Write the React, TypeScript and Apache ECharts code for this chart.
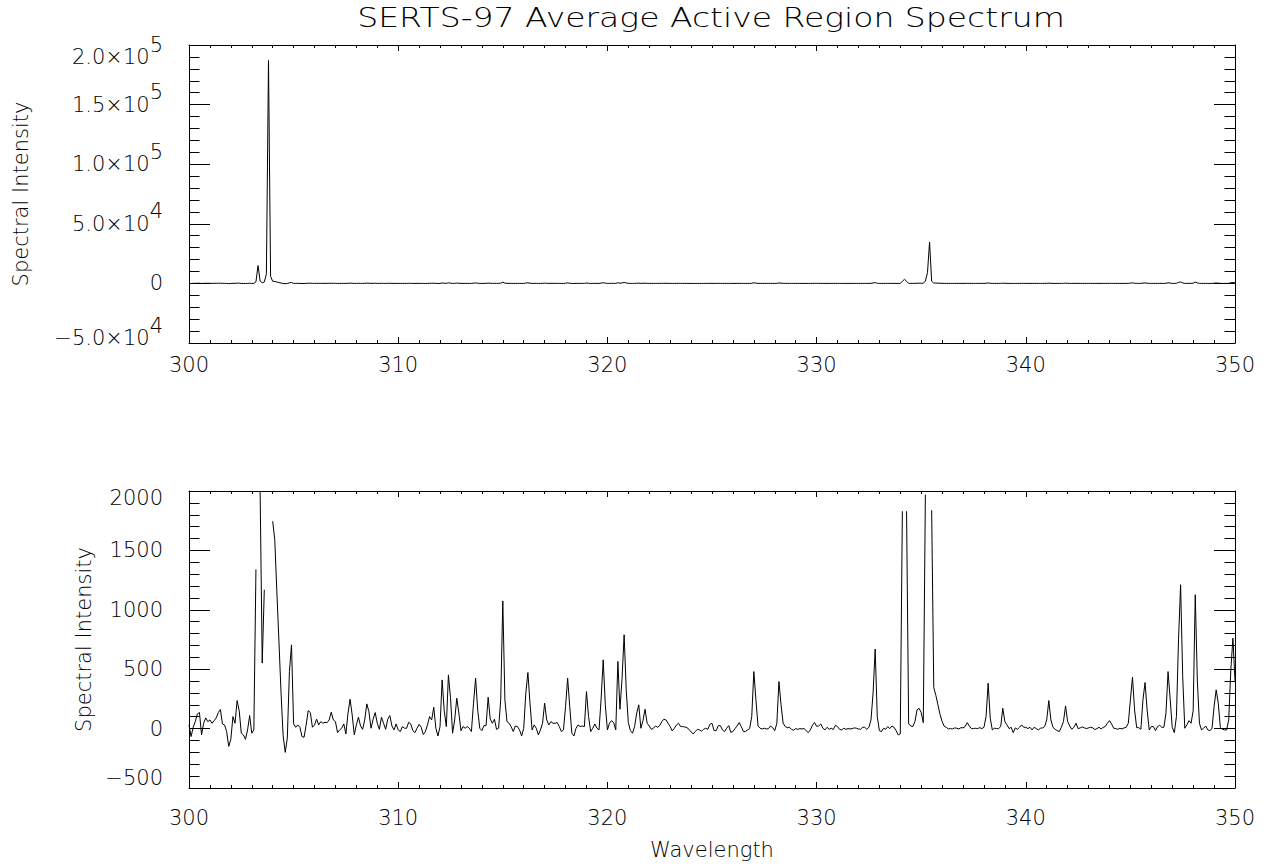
import React, { useEffect, useRef } from "react";
import * as echarts from "echarts";

const TITLE = "SERTS-97 Average Active Region Spectrum";
const Y_NAME = "Spectral Intensity";
const X_NAME = "Wavelength";

// wavelength sampling grid (Angstrom)
const WL_START = 300;
const WL_STEP = 0.1;

// spectral intensity, one value per 0.1 A
const seg300 = [
  31, -67, 11, 59, 124, 135, -53, 45, 90, 59,
  73, 45, 67, 90, 135, 160, 39, 31, -25, -150,
  -90, 101, 45, 236, 150, -39, -53, -90, -11, 110,
  -39, -10, 1340, 15000, 1995, 551, 1169, 8000, 187000, 6000,
  1745, 1590, 1150, 730, 300, -60, -200, -80, 480, 705,
  40, 11, 31, 11, -67, -73, 31, 152, 135, 11,
  31, 79, 31, 59, 45, 53, 50, 73, 138, 73,
  59, -34, -11, 3, 39, -45, 129, 247, 115, -53,
  31, 96, 22, -6, 73, 208, 143, 3, 79, 135,
  45, -6, 96, 45, -6, 79, 110, 22, -11, 39,
];
const seg310 = [
  -11, -25, 17, 3, 3, 53, 39, -17, -34, 3,
  36, 11, -50, -25, 31, 101, 73, 180, 3, -62,
  17, 410, 150, 17, 452, 260, -39, 73, 256, 130,
  -17, 17, 3, 17, 3, -25, 214, 424, 157, 3,
  -17, 25, 25, 264, 80, 45, 79, -6, 3, 242,
  1075, 242, 59, 45, 17, -25, 22, 17, -11, -62,
  3, 298, 472, 214, -11, 31, 3, -53, -11, 45,
  214, 73, 31, 59, 45, 45, 51, 17, -25, -11,
  185, 424, 185, -39, -62, 3, 31, 17, 22, 17,
  312, 101, -25, 3, 39, 3, -11, 250, 579, 200,
];
const seg320 = [
  -11, 45, 67, 51, -11, 565, 163, 420, 790, 326,
  51, -17, -39, 17, 130, 200, 3, 67, 163, 45,
  22, -6, 3, 22, 11, 25, 59, 79, 73, 45,
  17, -20, 3, 31, 45, 17, 17, 14, 8, -6,
  -28, -45, -25, -6, -11, -22, -6, 3, -6, 36,
  45, -17, -17, 25, 25, -11, -25, 3, 25, -31,
  -25, 0, 22, 51, 17, -25, -25, -11, 0, 101,
  480, 242, 22, 3, -3, 3, -3, 0, 22, 8,
  -17, 45, 396, 200, 45, 17, 8, 11, -6, -14,
  0, -6, 0, -3, 0, -17, -34, -11, 28, 51,
];
const seg330 = [
  20, 22, 39, 3, -11, 11, -6, 3, -8, 28,
  17, -6, -11, 3, -6, 0, -3, 0, 6, 3,
  -3, -6, 11, 11, -6, 11, 73, 300, 670, 101,
  -17, -25, 3, -6, 17, 0, 22, 11, -17, -53,
  -45, 1830, 3400, 1830, 40, 22, 17, 59, 157, 171,
  135, 50, 1970, 9000, 34700, 1838, 345, 280, 200, 120,
  60, 20, 10, -3, 0, -3, 6, 3, -3, 8,
  6, 17, 50, 22, 0, 0, 3, 0, 8, 0,
  11, 101, 382, 87, -11, 3, 0, 0, 17, 171,
  59, 31, 0, 11, -34, 6, -6, 11, 31, 11,
];
const seg340 = [
  11, 0, 11, -11, 11, 0, -11, 3, 6, 17,
  73, 236, 73, 11, -6, -17, -25, 11, 59, 191,
  60, 22, -6, 11, 45, 0, 6, 14, 6, 0,
  6, 11, 6, -8, 0, 11, -3, 11, 17, 45,
  67, 39, 3, 0, -6, 3, -3, 6, 11, 45,
  242, 433, 157, 8, 8, -6, 242, 388, 157, -11,
  17, 17, -17, 17, 28, 11, 11, 129, 480, 250,
  11, -34, 101, 747, 1211, 438, 3, 31, 67, 45,
  150, 1127, 400, 45, -11, 3, 22, -11, -17, 0,
  185, 326, 214, 11, -6, -11, -11, 73, 495, 761,
];
const end350 = [400];

// lower panel: points above this value are not plotted (gaps)
const LOW_MAX_VALUE = 2000;

// axes
const X_MIN = 300, X_MAX = 350, X_STEP = 10;
const TOP_MIN = -50000, TOP_MAX = 200000, TOP_STEP = 50000;
const LOW_MIN = -500, LOW_MAX = 2000, LOW_STEP = 500;

const intensity = [...seg300, ...seg310, ...seg320, ...seg330, ...seg340, ...end350];
const spectrum = intensity.map((v, i) => [Math.round((WL_START + i * WL_STEP) * 10) / 10, v]);
const spectrumLow = spectrum.map(([x, v]) => [x, v > LOW_MAX_VALUE ? "-" : v]);

const FONT = "DejaVu Sans";
const FW = 200;
const INK = "#000";
const FS = 21;

function sciLabel(v: number) {
  if (v === 0) return "{z|0}";
  const exp = Math.floor(Math.log10(Math.abs(v)));
  const mant = v / Math.pow(10, exp);
  const s = v === TOP_MAX ? "h" : v === TOP_MIN ? "l" : "n";
  const sign = mant < 0 ? "\u2212" : "";
  return `{${s}M|${sign}${Math.abs(mant).toFixed(1)}\u00d710}{${s}S|${exp}}`;
}
const tok = (pad: number[]) => ({
  fontFamily: FONT, fontWeight: FW, fontSize: FS, color: INK, height: 20, padding: pad, verticalAlign: "top",
});
const sciRich = {
  z: { fontFamily: FONT, fontWeight: FW, fontSize: FS, color: INK, height: 20 },
  nM: tok([12.5, 0, 12.5, 0]),
  nS: tok([0, 0, 0, 0]),
  hM: tok([24, 0, 0, 0]),
  hS: tok([11.5, 0, 0, 0]),
  lM: tok([12.5, 0, 22.5, 0]),
  lS: tok([0, 0, 0, 0]),
};

function lowLabel(v: number) {
  const t = v < 0 ? "\u2212" + Math.abs(v) : String(v);
  const s = v === LOW_MAX ? "h" : v === LOW_MIN ? "l" : "n";
  return `{${s}|${t}}`;
}
const lowRich = {
  n: { fontFamily: FONT, fontWeight: FW, fontSize: FS, color: INK, height: 22 },
  h: { fontFamily: FONT, fontWeight: FW, fontSize: FS, color: INK, height: 22, padding: [13, 0, 0, 0], verticalAlign: "top" },
  l: { fontFamily: FONT, fontWeight: FW, fontSize: FS, color: INK, height: 22, padding: [0, 0, 20, 0], verticalAlign: "top" },
};

const lineStyle = { color: INK, width: 1 };

function xPair(gridIndex: number, margin: number, name?: string) {
  const base: any = {
    type: "value",
    gridIndex,
    min: X_MIN,
    max: X_MAX,
    interval: X_STEP,
    axisLine: { show: true, onZero: false, lineStyle },
    axisTick: { show: true, inside: true, length: 6, lineStyle },
    minorTick: { show: true, splitNumber: 10, length: 3, lineStyle },
    splitLine: { show: false },
    minorSplitLine: { show: false },
  };
  return [
    {
      ...base,
      position: "bottom",
      axisLabel: {
        show: true, margin, fontFamily: FONT, fontWeight: FW, fontSize: FS, color: INK,
        showMinLabel: true, showMaxLabel: true,
      },
      name: name || "",
      nameLocation: "middle",
      nameGap: 51.5,
      nameTextStyle: { fontFamily: FONT, fontWeight: FW, fontSize: FS, color: INK },
    },
    { ...base, position: "top", axisLabel: { show: false } },
  ];
}

function yPair(gridIndex: number, min: number, max: number, step: number, formatter: any, rich: any, nameGap: number) {
  const base: any = {
    type: "value",
    gridIndex,
    min,
    max,
    interval: step,
    axisLine: { show: true, onZero: false, lineStyle },
    axisTick: { show: true, inside: true, length: 21, lineStyle },
    minorTick: { show: true, splitNumber: 5, length: 10.5, lineStyle },
    splitLine: { show: false },
    minorSplitLine: { show: false },
  };
  return [
    {
      ...base,
      position: "left",
      axisLabel: {
        show: true, margin: 26, formatter, rich, fontFamily: FONT, fontWeight: FW, fontSize: FS, color: INK,
        showMinLabel: true, showMaxLabel: true,
      },
      name: Y_NAME,
      nameLocation: "middle",
      nameGap,
      nameTextStyle: { fontFamily: FONT, fontWeight: FW, fontSize: FS, color: INK },
    },
    { ...base, position: "right", axisLabel: { show: false } },
  ];
}

export default function App() {
  const ref = useRef<HTMLDivElement>(null);
  useEffect(() => {
    if (!ref.current) return;
    const chart = echarts.init(ref.current, undefined, { renderer: "svg" });
    chart.setOption({
      animation: false,
      backgroundColor: "#fff",
      grid: [
        { left: 189, right: 29, top: 45, height: 298 },
        { left: 189, right: 29, top: 491, height: 297 },
      ],
      graphic: [
        {
          type: "text",
          x: 711,
          y: 18,
          scaleX: 1.27,
          style: {
            text: TITLE,
            fontFamily: FONT,
            fontWeight: FW,
            fontSize: 26,
            fill: INK,
            align: "center",
            verticalAlign: "middle",
            textAlign: "center",
            textVerticalAlign: "middle",
          },
        },
      ],
      xAxis: [...xPair(0, 11.5), ...xPair(1, 19.5, X_NAME)],
      yAxis: [
        ...yPair(0, TOP_MIN, TOP_MAX, TOP_STEP, sciLabel, sciRich, 157.5),
        ...yPair(1, LOW_MIN, LOW_MAX, LOW_STEP, lowLabel, lowRich, 93.5),
      ],
      series: [
        {
          type: "line",
          xAxisIndex: 0,
          yAxisIndex: 0,
          data: spectrum,
          symbol: "none",
          showSymbol: false,
          clip: true,
          silent: true,
          lineStyle: { color: INK, width: 1 },
        },
        {
          type: "line",
          xAxisIndex: 2,
          yAxisIndex: 2,
          data: spectrumLow,
          symbol: "none",
          showSymbol: false,
          connectNulls: false,
          clip: true,
          silent: true,
          lineStyle: { color: INK, width: 1 },
        },
      ],
    });
    return () => chart.dispose();
  }, []);
  return (
    <div
      ref={ref}
      style={{ position: "fixed", left: 0, top: 0, width: 1264, height: 865, background: "#fff" }}
    />
  );
}
